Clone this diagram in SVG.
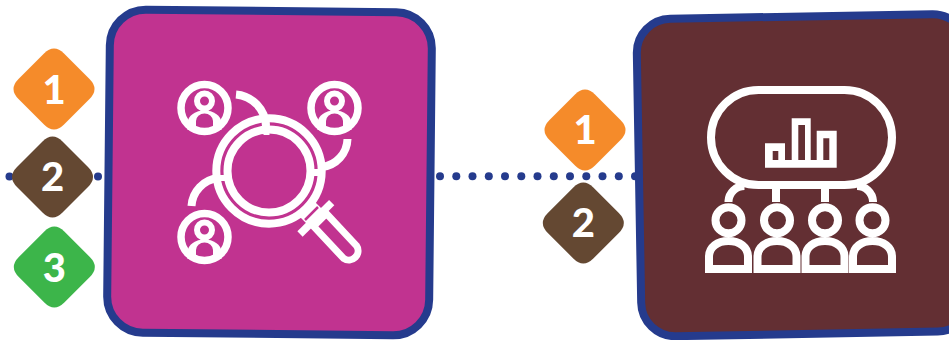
<svg xmlns="http://www.w3.org/2000/svg" width="949" height="340" viewBox="0 0 949 340">
<style>
.card{stroke:#253b8d;stroke-width:8}
.ic{fill:none;stroke:#fff;stroke-width:8}
.ln{fill:none;stroke:#fff;stroke-width:8}
.num{font-family:Lato,"Open Sans","Liberation Sans",sans-serif;font-weight:900;font-size:40px;fill:#fff;text-anchor:middle}
.or{fill:#f58b2a}.br{fill:#644832}.gr{fill:#3cb54a}
</style>
<defs>
<path id="dia" d="M-10 -35.500Q0 -45.500 10 -35.500L35.500 -10Q45.500 0 35.500 10L10 35.500Q0 45.500 -10 35.500L-35.500 10Q-45.500 0 -35.500 -10Z"/>
<g id="person">
<path d="M-17 16C-17 -2 17 -2 17 16V22H-17Z" fill="#fff"/>
<path d="M-8.500 22V13A8.500 7.500 0 0 1 8.500 13V22Z" fill="#c13390"/>
<circle r="23.500" fill="none" stroke="#fff" stroke-width="7.500"/>
<circle cy="-7" r="7.500" fill="#c13390" stroke="#fff" stroke-width="6"/>
</g>
<g id="body">
<path d="M-19.500 27V15C-19.500 5 -11 -1 0 -1C11 -1 19.500 5 19.500 15V27Z" class="ic"/>
<circle cy="-21.700" r="13" fill="#632f33" stroke="#fff" stroke-width="8"/>
</g>
</defs>
<g id="connectors" fill="#253b8d">
<circle cx="9.500" cy="176.500" r="4"/><circle cx="98" cy="176.500" r="4"/>
<circle cx="440" cy="176.300" r="4"/><circle cx="456.300" cy="176.300" r="4"/><circle cx="472.500" cy="176.300" r="4"/><circle cx="488.800" cy="176.300" r="4"/><circle cx="505" cy="176.300" r="4"/><circle cx="521.300" cy="176.300" r="4"/><circle cx="537.500" cy="176.300" r="4"/><circle cx="553.800" cy="176.300" r="4"/><circle cx="570" cy="176.300" r="4"/><circle cx="586.300" cy="176.300" r="4"/><circle cx="602.500" cy="176.300" r="4"/><circle cx="618.800" cy="176.300" r="4"/><circle cx="635" cy="176.300" r="4"/>
</g>
<g id="card-left">
<rect x="108.500" y="11" width="322" height="323" rx="36" fill="#c13390" class="card" transform="rotate(.6 270 172)"/>
<use href="#person" x="204.500" y="108"/>
<use href="#person" x="334.500" y="108"/>
<use href="#person" x="204.500" y="237"/>
<path d="M236 94.500A33 33 0 0 1 266 126" class="ic"/>
<path d="M347.500 139A29 29 0 0 1 322 167" class="ic"/>
<path d="M191.500 206A30 30 0 0 1 218 178" class="ic"/>
<circle cx="269" cy="171" r="52.700" class="ic"/>
<circle cx="269" cy="171" r="41.500" class="ic"/>
<path d="M266.500 118V135M214 178H230M317 169V176" stroke="#fff" stroke-width="6" fill="none"/>
<path d="M304 221L319 206" stroke="#fff" stroke-width="12" fill="none"/>
<path d="M305 220L318 207" stroke="#c13390" stroke-width="2.500" fill="none"/>
<path d="M300 234L331.700 202.700" stroke="#fff" stroke-width="7.500" fill="none"/>
<path d="M313.600 226.400L326.400 213.600L356.400 245.600A9.200 9.200 0 0 1 343.600 258.400Z" fill="none" stroke="#fff" stroke-width="7"/>
</g>
<g id="card-right">
<rect x="639" y="16.500" width="330" height="317.500" rx="34" fill="#632f33" class="card" transform="rotate(-1 800 176)"/>
<rect x="711" y="90" width="181" height="95" rx="47.500" class="ln"/>
<path fill-rule="evenodd" fill="#fff" d="M765 143.300H785V160H791.700V118.300H810.700V160H816.700V130.700H836.700V167.700H765ZM772.700 151V160H778.300V151ZM798.300 125V160H805V125ZM823.300 138.300V160H829.300V138.300Z"/>
<path d="M728.500 202V201A16 16 0 0 1 744.500 186M776 186V202M825 186V202M873 202V201A16 16 0 0 0 857 186" class="ln"/>
<use href="#body" x="728.500" y="242"/>
<use href="#body" x="777" y="242"/>
<use href="#body" x="825" y="242"/>
<use href="#body" x="872.500" y="242"/>
</g>
<g id="badge-left-1"><use href="#dia" x="54" y="89" class="or"/><text x="54" y="103.500" class="num">1</text></g>
<g id="badge-left-2"><use href="#dia" x="52.500" y="177" class="br"/><text x="52.500" y="191" class="num">2</text></g>
<g id="badge-left-3"><use href="#dia" x="54.300" y="267" class="gr"/><text x="54.300" y="282" class="num">3</text></g>
<g id="badge-right-1"><use href="#dia" x="585" y="130" class="or"/><text x="585" y="143.500" class="num">1</text></g>
<g id="badge-right-2"><use href="#dia" x="583.300" y="223" class="br"/><text x="583.300" y="236.700" class="num">2</text></g>
</svg>
